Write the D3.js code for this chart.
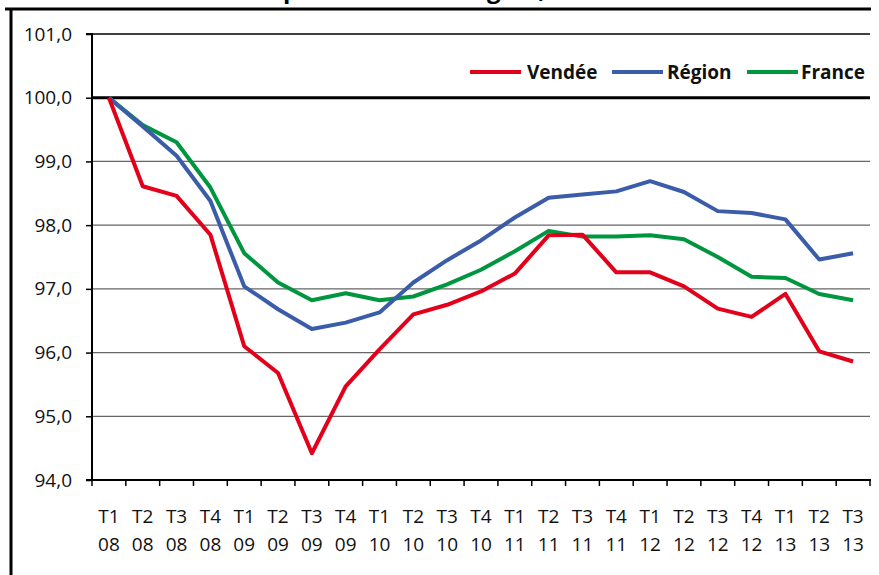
<!DOCTYPE html>
<html>
<head>
<meta charset="utf-8">
<script src="https://cdn.jsdelivr.net/npm/d3@7"></script>
<style>
  body { margin: 0; background: #fff; }
  svg { display: block; font-family: "Open Sans", sans-serif; }
</style>
</head>
<body>
<div id="chart"></div>
<script>
// quarters T1 08 .. T3 13
let quarters = ['T1','T2','T3','T4','T1','T2','T3','T4','T1','T2','T3','T4',
  'T1','T2','T3','T4','T1','T2','T3','T4','T1','T2','T3'];
let years = ['08','08','08','08','09','09','09','09','10','10','10','10',
  '11','11','11','11','12','12','12','12','13','13','13'];

// series (base 100 = T1 08)
let vendee = [100.0, 98.61, 98.46, 97.85, 96.10, 95.68, 94.42, 95.47, 96.05, 96.60, 96.75, 96.96,
  97.24, 97.84, 97.85, 97.26, 97.26, 97.04, 96.69, 96.56, 96.92, 96.02, 95.86];
let region = [100.0, 99.55, 99.09, 98.38, 97.04, 96.68, 96.37, 96.47, 96.63, 97.10, 97.45, 97.76,
  98.12, 98.43, 98.48, 98.53, 98.69, 98.52, 98.22, 98.19, 98.09, 97.46, 97.56];
let france = [100.0, 99.57, 99.30, 98.59, 97.56, 97.10, 96.82, 96.93, 96.82, 96.88, 97.07, 97.30,
  97.59, 97.91, 97.82, 97.82, 97.84, 97.78, 97.50, 97.19, 97.17, 96.92, 96.82];

let seriesNames = ['Vendée', 'Région', 'France'];
let yTicks = [94, 95, 96, 97, 98, 99, 100, 101];

let colors = {'Vendée': '#e2001a', 'Région': '#3b5ca8', 'France': '#00963f'};

let width = 879, height = 575;
let categories = quarters.map(function(q, i) { return i; });

let svg = d3.select('#chart').append('svg')
  .attr('width', width)
  .attr('height', height);

// scales
let xScale = d3.scaleBand().domain(categories).range([92, 870]).paddingInner(0).paddingOuter(0);
let yScale = d3.scaleLinear().domain([94, 101]).range([480, 34]);

// title (cut off by the top of the picture, as in the original)
let title = svg.append('text')
  .attr('x', 0)
  .attr('y', -2)
  .style('font-size', '24px')
  .style('font-weight', 'bold')
  .text("Évolution de l'emploi salarié en Région, base 100");
// put the "p" of "emploi" where it sits in the original
let pOffset = title.node().getSubStringLength(0, 17);
title.attr('x', 283 - pOffset);

// frame
svg.append('line')
  .attr('x1', 5).attr('x2', 871).attr('y1', 9).attr('y2', 9)
  .attr('stroke', '#000').attr('stroke-width', 3);
svg.append('line')
  .attr('x1', 11).attr('x2', 11).attr('y1', 8).attr('y2', height)
  .attr('stroke', '#000').attr('stroke-width', 3);

// gridlines
svg.append('g').selectAll('line')
  .data(yTicks.filter(function(d) { return d > 94; }))
  .enter().append('line')
  .attr('x1', 92).attr('x2', 870)
  .attr('y1', function(d) { return yScale(d); })
  .attr('y2', function(d) { return yScale(d); })
  .attr('stroke', function(d) { return d == 100 || d == 101 ? '#000' : '#666'; })
  .attr('stroke-width', function(d) { return d == 100 ? 3 : 1.3; });

// y axis
let yAxis = d3.axisLeft(yScale)
  .tickValues(yTicks)
  .tickSize(6)
  .tickPadding(14)
  .tickFormat(function(d) { return d3.format('.1f')(d).replace('.', ','); });
let gy = svg.append('g')
  .attr('transform', 'translate(92,0)')
  .call(yAxis);
gy.select('.domain').attr('stroke-width', 2).attr('d', 'M-6,34H0V480H-6');
gy.selectAll('.tick line').attr('stroke-width', 1.5);
gy.selectAll('.tick text')
  .style('font-size', '19px')
  .style('font-family', '"Open Sans", sans-serif')
  .attr('fill', '#111');

// x axis
svg.append('line')
  .attr('x1', 86).attr('x2', 871)
  .attr('y1', yScale(94)).attr('y2', yScale(94))
  .attr('stroke', '#000').attr('stroke-width', 2);
let tickX = categories.map(function(c) { return xScale(c); }).concat([xScale.range()[1]]);
svg.append('g').selectAll('line')
  .data(tickX)
  .enter().append('line')
  .attr('x1', function(d) { return d; })
  .attr('x2', function(d) { return d; })
  .attr('y1', yScale(94))
  .attr('y2', yScale(94) + 6)
  .attr('stroke', '#000').attr('stroke-width', 1.5);

let xLabels = svg.append('g').selectAll('text')
  .data(categories)
  .enter().append('text')
  .attr('text-anchor', 'middle')
  .style('font-size', '19px')
  .attr('fill', '#111');
xLabels.append('tspan')
  .attr('x', function(d) { return xScale(d) + xScale.bandwidth() / 2; })
  .attr('y', 523)
  .text(function(d) { return quarters[d]; });
xLabels.append('tspan')
  .attr('x', function(d) { return xScale(d) + xScale.bandwidth() / 2; })
  .attr('y', 551)
  .text(function(d) { return years[d]; });

// lines
let line = d3.line()
  .x(function(d, i) { return xScale(i) + xScale.bandwidth() / 2; })
  .y(function(d) { return yScale(d); });

let allSeries = [
  {name: 'France', values: france},
  {name: 'Région', values: region},
  {name: 'Vendée', values: vendee}
];
svg.append('g').selectAll('path')
  .data(allSeries)
  .enter().append('path')
  .attr('d', function(d) { return line(d.values); })
  .attr('fill', 'none')
  .attr('stroke', function(d) { return colors[d.name]; })
  .attr('stroke-width', 4)
  .attr('stroke-linejoin', 'round');

// legend
let legendPos = [{x: 470, tx: 527}, {x: 612, tx: 667}, {x: 747, tx: 801}];
let legend = svg.append('g').selectAll('g')
  .data(seriesNames)
  .enter().append('g');
legend.append('line')
  .attr('x1', function(d, i) { return legendPos[i].x; })
  .attr('x2', function(d, i) { return legendPos[i].x + 51; })
  .attr('y1', 72).attr('y2', 72)
  .attr('stroke', function(d) { return colors[d]; })
  .attr('stroke-width', 4);
legend.append('text')
  .attr('x', function(d, i) { return legendPos[i].tx; })
  .attr('y', 79)
  .style('font-size', '19px')
  .style('font-weight', 'bold')
  .attr('fill', '#111')
  .text(function(d) { return d; });
</script>
</body>
</html>
